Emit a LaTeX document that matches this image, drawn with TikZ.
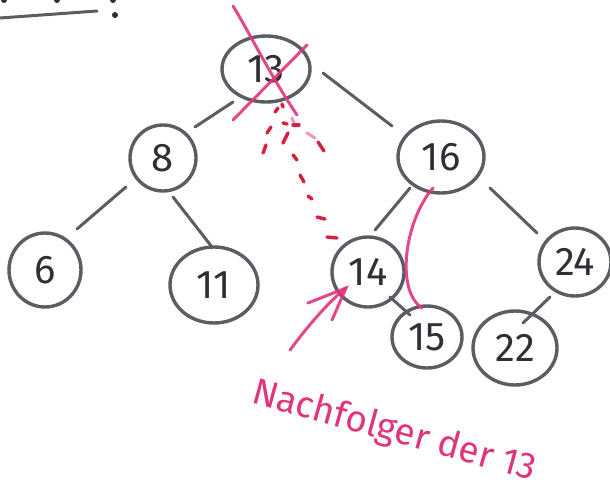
\documentclass[tikz,border=0pt]{standalone}
\usepackage{fontspec}
\setsansfont{Fira Sans}
\usetikzlibrary{shapes.geometric}
\definecolor{pen}{HTML}{5A5D64}
\definecolor{ink}{HTML}{2E3036}
\definecolor{pinkpen}{HTML}{E0357E}
\definecolor{redpen}{HTML}{D8203E}
\tikzset{
  bst/.style={ellipse, draw=pen, line width=3.4pt, inner sep=0pt,
    font=\sffamily\fontsize{40}{40}\selectfont, text=ink},
  edge/.style={draw=pen, line width=3pt, line cap=round},
  pinkline/.style={draw=pinkpen, line width=3pt, line cap=round, opacity=0.9},
  reddash/.style={draw=redpen, line width=3.4pt, line cap=round},
}
\begin{document}
\begin{tikzpicture}[x=1pt,y=-1pt]
\useasboundingbox (0,0) rectangle (610,490);
\fill[white] (0,0) rectangle (610,490);
% top-left remnants
\draw[edge] (0,18) -- (97,11);
\fill[ink] (115,15) circle (3);
\fill[ink] (4,0) circle (3);
\fill[ink] (57,0) circle (3);
\fill[ink] (113,0) circle (3);
% nodes
\node[bst, minimum width=88, minimum height=66] (n13) at (266,69) {13};
\node[bst, minimum width=66, minimum height=66] (n8) at (163,158) {8};
\node[bst, minimum width=86, minimum height=72] (n16) at (441,157) {16};
\node[bst, minimum width=72, minimum height=74] (n6) at (45,270) {6};
\node[bst, minimum width=88, minimum height=76] (n11) at (214,285) {11};
\node[bst, minimum width=72, minimum height=70] (n14) at (368,272) {14};
\node[bst, minimum width=72, minimum height=68] (n24) at (575,262) {24};
\node[bst, minimum width=70, minimum height=62] (n15) at (427,337) {15};
\node[bst, minimum width=84, minimum height=74] (n22) at (515,348) {22};
% edge endpoints
\coordinate (e13a) at (233,102); \coordinate (e8a) at (195,127);
\coordinate (e13b) at (323,73);  \coordinate (e16a) at (392,126);
\coordinate (e8b) at (126,187);  \coordinate (e6a) at (77,229);
\coordinate (e8c) at (173,197);  \coordinate (e11a) at (212,247);
\coordinate (e16b) at (410,188); \coordinate (e14a) at (375,230);
\coordinate (e16c) at (490,188); \coordinate (e24a) at (537,233);
\coordinate (e14b) at (390,297); \coordinate (e15a) at (410,315);
\coordinate (e24b) at (550,297); \coordinate (e22a) at (523,323);
\draw[edge] (e13a) -- (e8a);
\draw[edge] (e13b) -- (e16a);
\draw[edge] (e8b) -- (e6a);
\draw[edge] (e8c) -- (e11a);
\draw[edge] (e16b) -- (e14a);
\draw[edge] (e16c) -- (e24a);
\draw[edge] (e14b) -- (e15a);
\draw[edge] (e24b) -- (e22a);
% pink cross over 13
\draw[pinkline] (233,6) .. controls (248,30) and (270,75) .. (297,115);
\draw[pinkline] (307,45) -- (233,120);
% dotted search path
\foreach \xa/\ya/\xb/\yb in {275/112/278/108, 282/104/283/107, 283/123/287/124,
  293/125/299/125, 267/133/271/127, 283/143/288/133,
  318/142/324/151, 263/153/266/145, 293/155/297/160,
  300/175/304/182, 308/196/312/199, 317/217/325/219,
  327/237/337/238}
  \draw[reddash] (\xa,\ya) -- (\xb,\yb);
\draw[pinkline, opacity=0.5] (307,133) -- (315,138);
\draw[pinkline, opacity=0.5] (292,118) -- (294,123);
% arrow to 14
\coordinate (atail) at (290,350);
\coordinate (atip) at (346,288);
\draw[pinkline] (atail) .. controls (305,330) and (325,305) .. (atip);
\draw[pinkline] (308,303) -- (atip) -- (332,320);
% curve 16 -> 15
\draw[pinkline] (433,188) .. controls (405,220) and (395,290) .. (422,308);
% caption
\node[text=pinkpen, font=\sffamily\fontsize{37}{37}\selectfont, rotate=-15.5, inner sep=0pt]
  (cap) at (394,432) {Nachfolger der 13};
\end{tikzpicture}
\end{document}
